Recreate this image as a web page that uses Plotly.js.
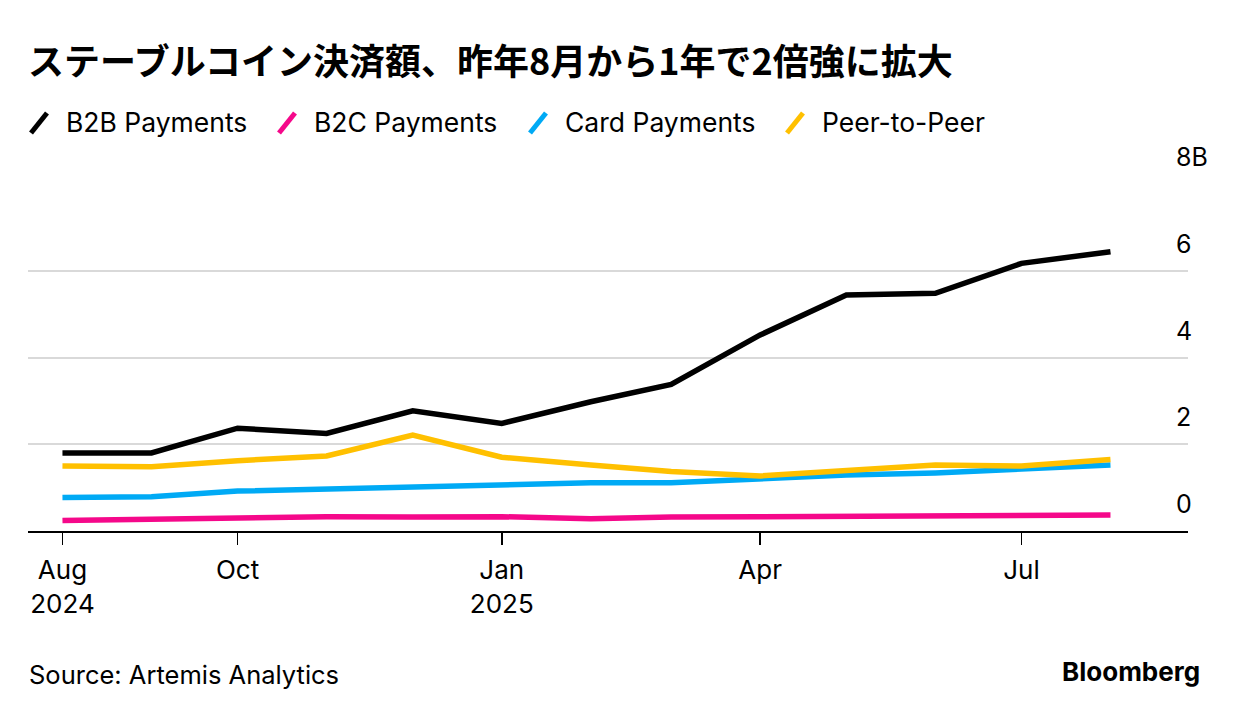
<!DOCTYPE html>
<html>
<head>
<meta charset="utf-8">
<script src="https://cdn.plot.ly/plotly-3.0.1.min.js"></script>
<style>html,body{margin:0;padding:0;background:#fff;}#chart{width:1240px;height:716px;}</style>
</head>
<body>
<div id="chart"></div>
<script>
const months = ['2024-08-01','2024-09-01','2024-10-01','2024-11-01','2024-12-01','2025-01-01','2025-02-01','2025-03-01','2025-04-01','2025-05-01','2025-06-01','2025-07-01','2025-08-01'];
const b2b  = [1.80,1.80,2.37,2.25,2.77,2.48,2.98,3.38,4.52,5.44,5.48,6.17,6.44];
const b2c  = [0.24,0.27,0.29,0.33,0.32,0.33,0.28,0.32,0.33,0.34,0.35,0.36,0.37];
const card = [0.77,0.79,0.92,0.97,0.99,1.05,1.11,1.11,1.21,1.29,1.34,1.44,1.52];
const p2p  = [1.50,1.48,1.62,1.73,2.21,1.70,1.52,1.37,1.27,1.38,1.52,1.50,1.65];
const seriesNames = ['B2B Payments','B2C Payments','Card Payments','Peer-to-Peer'];
const seriesColors = ['#000000','#f5088a','#00aaf5','#ffc000'];
const xTickVals = ['2024-08-01','2024-10-01','2025-01-01','2025-04-01','2025-07-01'];
const xTickText = ['Aug<br>2024','Oct','Jan<br>2025','Apr','Jul'];
const yTickVals = [0,2,4,6,8];
const yTickText = ['0','2','4','6','8B'];
const titleText = 'ステーブルコイン決済額、昨年8月から1年で2倍強に拡大';
const sourceText = 'Source: Artemis Analytics';

const W = 1240, H = 716;
const M = {l:28, r:52, t:184, b:185};
const pw = W - M.l - M.r, ph = H - M.t - M.b;
const px2x = p => (p - M.l) / pw;
const px2y = p => (H - M.b - p) / ph;

const FONT = 'Inter, "Liberation Sans", Arial, sans-serif';
const seriesData = [b2b, b2c, card, p2p];

const traces = seriesData.map((vals, i) => ({
  type: 'scatter', mode: 'lines', x: months, y: vals, name: seriesNames[i],
  line: {color: seriesColors[i], width: 5.5, shape: 'linear'},
  showlegend: false, hoverinfo: 'x+y+name'
}));

const annotations = [];
const shapes = [];
yTickVals.forEach((v, i) => {
  annotations.push({xref:'paper', yref:'y', x: px2x(1174), y: v, xanchor:'left', yanchor:'middle',
    yshift: 27, text: yTickText[i], showarrow:false, font:{family:FONT, size:25, color:'#000'}});
});
const legendTextX = [66, 314, 565, 822];
seriesNames.forEach((n, i) => {
  const tx = legendTextX[i];
  shapes.push({type:'line', xref:'paper', yref:'paper', x0: px2x(tx-35), y0: px2y(133), x1: px2x(tx-19), y1: px2y(113),
    line:{color: seriesColors[i], width:5}});
  annotations.push({xref:'paper', yref:'paper', x: px2x(tx - 2), y: px2y(122), xanchor:'left', yanchor:'middle',
    text: n, showarrow:false, font:{family:FONT, size:26.5, color:'#000'}});
});
annotations.push({xref:'paper', yref:'paper', x: px2x(27), y: px2y(674), xanchor:'left', yanchor:'middle',
  text: sourceText, showarrow:false, font:{family:FONT, size:25.5, color:'#000'}});
annotations.push({xref:'paper', yref:'paper', x: px2x(1202), y: px2y(671), xanchor:'right', yanchor:'middle',
  text: '<b>Bloomberg</b>', showarrow:false, font:{family:FONT, size:26, color:'#000'}});

const layout = {
  width: W, height: H, margin: M,
  paper_bgcolor:'#fff', plot_bgcolor:'#fff',
  title: {text: '<b>' + titleText + '</b>', x: 28/W, xanchor:'left', y: 1 - 62/H, yanchor:'middle', xref:'container', yref:'container',
    font:{family:'"Noto Sans CJK JP", sans-serif', size:36, color:'#000'}},
  xaxis: {type:'date', range:['2024-07-20','2025-08-28'], tickvals: xTickVals, ticktext: xTickText,
    ticks:'outside', ticklen:12, tickwidth:1.5, tickcolor:'#000', showgrid:false, zeroline:false,
    showline:true, linecolor:'#000', linewidth:2, ticklabelstandoff:3,
    tickfont:{family:FONT, size:26, color:'#000'}, fixedrange:true},
  yaxis: {range:[0,8], tickvals: yTickVals, showticklabels:false, ticks:'', showgrid:true, gridcolor:'#d9d9d9', gridwidth:2,
    zeroline:false, showline:false, fixedrange:true},
  annotations, shapes, showlegend:false
};
Plotly.newPlot('chart', traces, layout, {displayModeBar:false, staticPlot:true});
</script>
</body>
</html>
